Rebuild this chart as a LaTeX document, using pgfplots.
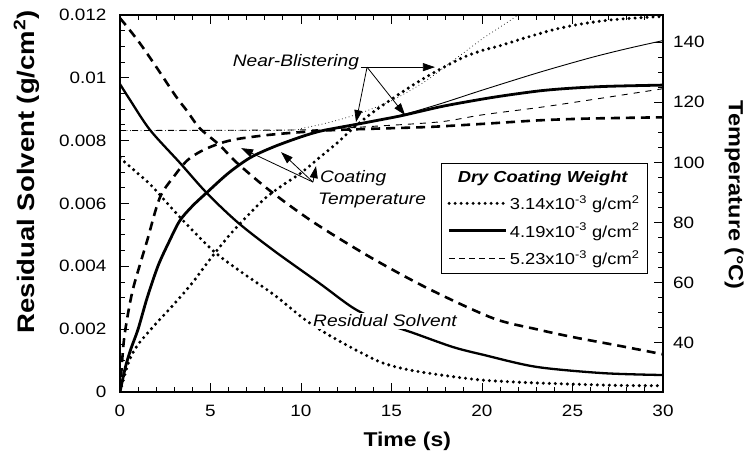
\documentclass[border=0pt]{standalone}
\usepackage{fontspec}
\setmainfont{Liberation Sans}[FakeStretch=1.15]
\usepackage{pgfplots}
\pgfplotsset{compat=1.18}
\usetikzlibrary{arrows.meta}
\tikzset{
 thickdot/.style={line width=3.4bp, dash pattern=on 0bp off 6bp, line cap=round},
 thicksolid/.style={line width=2.8bp},
 thickdash/.style={line width=2.6bp, dash pattern=on 9bp off 6bp},
 thindot/.style={line width=1bp, dash pattern=on 0bp off 3.5bp, line cap=round},
 thinsolid/.style={line width=0.9bp},
 thindash/.style={line width=0.9bp, dash pattern=on 6bp off 6bp},
 arr/.style={line width=0.8bp, -{Triangle[length=12bp,width=8bp]}},
}
\pgfplotsset{myax/.style={scale only axis, width=543bp, height=377bp, at={(0,0)}, anchor=south west,
  xmin=0, xmax=30, axis line style={line width=1.4bp}, tick style={line width=1bp, black},
  tick align=inside, major tick length=9bp, minor tick length=5bp,
  tick label style={font=\fontsize{16.5}{19}\selectfont},
  /pgf/number format/assume math mode=true}}
\begin{document}
\begin{tikzpicture}
\begin{axis}[myax, ymin=0, ymax=0.012, scaled y ticks=false,
  xtick={0,5,10,15,20,25,30}, minor x tick num=4, xtick pos=both, xticklabel pos=lower,
  ytick={0,0.002,0.004,0.006,0.008,0.01,0.012},
  yticklabels={0,0.002,0.004,0.006,0.008,0.01,0.012},
  minor y tick num=3, ytick pos=left,
  xticklabel style={yshift=-10bp}, yticklabel style={xshift=-10bp},
  xlabel={\bfseries Time (s)},
  ylabel={\bfseries Residual Solvent (g/cm\textsuperscript{2})},
  every axis x label/.style={at={(axis description cs:0.529,-0.132)}, anchor=center, font=\fontsize{20}{22}\selectfont},
  every axis y label/.style={at={(axis description cs:-0.172,0.584)}, rotate=90, anchor=center, font=\fontsize{24}{26}\selectfont},
]
% dotted solvent (3.14)
\addplot[thickdot, smooth] coordinates {(0,0.00745) (1,0.00695) (1.8,0.00653) (3.3,0.00557) (5.1,0.00452) (6.5,0.0039) (8.5,0.0031) (10,0.0024) (11,0.002) (12.5,0.0015) (14.4,0.00095) (16,0.0007) (18,0.00052) (20,0.00038) (22.5,0.0003) (25,0.00025) (27.5,0.00021) (30,0.0002)};
% solid solvent (4.19)
\addplot[line width=2.3bp, smooth] coordinates {(0,0.0098) (0.55,0.0093) (1.66,0.00834) (3.3,0.0073) (4.8,0.00633) (6.5,0.0054) (8.5,0.0045) (11,0.00347) (12.9,0.00267) (14.5,0.00222) (16.2,0.00188) (18.4,0.00143) (20.1,0.00118) (23,0.0008) (26.7,0.0006) (30,0.00054)};
% dashed solvent (5.23)
\addplot[thickdash, smooth] coordinates {(0,0.0119) (0.4,0.01162) (1.1,0.0111) (2,0.01035) (3.1,0.0094) (3.7,0.00895) (4.4,0.0084) (5.5,0.00786) (6.45,0.0073) (8.3,0.0064) (10.7,0.0054) (13.8,0.0043) (17,0.0033) (20.6,0.00235) (23,0.002) (25,0.00175) (27.5,0.00148) (30,0.0012)};
\node[fill=white, inner sep=1.5bp, font=\itshape\fontsize{16.7}{20}\selectfont] at (axis cs:14.64,0.00226) {Residual Solvent};
\end{axis}
\begin{axis}[myax, axis x line=none, axis y line*=right, ymin=23.7, ymax=149,
  ytick={40,60,80,100,120,140}, minor y tick num=3, ytick pos=right,
  yticklabel style={xshift=6.5bp},
  ylabel={\bfseries Temperature (\textdegree C)},
  every axis y label/.style={at={(axis description cs:1.1308,0.522)}, rotate=-90, anchor=center, font=\fontsize{20.5}{24}\selectfont},
  legend image code/.code={\draw[#1] (0bp,0bp) -- (57bp,0bp);},
  legend cell align=left,
  legend style={at={(0.972,0.607)}, anchor=north east, draw=black, line width=0.8bp, fill=white,
    font=\fontsize{16}{19}\selectfont, row sep=8bp, inner xsep=6bp, inner ysep=5bp},
]
\addlegendimage{empty legend}
\addlegendentry{\hspace*{-52bp}\bfseries\itshape Dry Coating Weight}
\addlegendimage{thickdot}
\addlegendentry{3.14x10\textsuperscript{-3} g/cm\textsuperscript{2}}
\addlegendimage{thicksolid}
\addlegendentry{4.19x10\textsuperscript{-3} g/cm\textsuperscript{2}}
\addlegendimage{line width=1.3bp, dash pattern=on 6bp off 4bp}
\addlegendentry{5.23x10\textsuperscript{-3} g/cm\textsuperscript{2}}
% thin near-blistering lines
\addplot[thindot, smooth, forget plot] coordinates {(0,110.6) (9,110.7) (10,111.3) (11,112.5) (12,114) (13,115.8) (14,118) (15,120.5) (16,123.8) (17,127.5) (18,132) (19,136.5) (20,141) (21,145) (22,149) (22.5,151)};
\addplot[thinsolid, smooth, forget plot] coordinates {(13.1,112.7) (14,113.6) (15.6,115.8) (17.7,119.5) (20,124) (23.2,130) (26,134.8) (28,137.8) (30,140.5)};
\addplot[thindash, smooth, forget plot] coordinates {(0,110.6) (10,110.8) (12,111.3) (14,112) (17.7,113.5) (20,115.8) (23.2,118.3) (26,120.8) (30,124.5)};
% dotted temperature (3.14)
\addplot[thickdot, smooth, forget plot] coordinates {(0,23.7) (0.5,34) (1,39.5) (2,46.5) (3,53) (4,60) (5,68) (6,75.5) (7,82) (8,88) (9,92.5) (10,96.5) (11,101.5) (12,106.5) (13,112) (14,116.8) (15,121) (16,125) (17,128.7) (18,132) (19,135) (20,137.2) (21,138.8) (22,140.7) (23,142.5) (24,144.2) (25,145.5) (26,146.5) (27,147.3) (28,147.8) (29,148.2) (30,148.5)};
% solid temperature (4.19)
\addplot[thicksolid, smooth, forget plot] coordinates {(0,23.7) (0.3,32) (0.6,38) (1,44.6) (1.5,55) (2.1,65.6) (2.7,73.5) (3.3,80.6) (4,85.5) (4.8,90) (6,96.5) (7.2,101.6) (8.5,105.2) (10,108.5) (11,110.3) (12,111.5) (13.1,112.7) (14.5,114.3) (15.6,115.6) (17.7,118.5) (19.3,120.3) (21,122) (23.2,123.8) (25,124.7) (27,125.3) (30,125.7)};
% dashed temperature (5.23)
\addplot[thickdash, smooth, forget plot] coordinates {(0,23.7) (0.2,40) (0.45,50) (0.72,58) (1.1,66) (1.5,74) (2.2,88.3) (3,95.5) (3.7,100.6) (4.5,103.8) (5.5,106.3) (6.5,107.8) (8.3,109.2) (10.3,110.2) (12,110.8) (14,111.2) (17.1,111.8) (20,112.8) (23.2,114) (26,114.6) (30,115)};
% annotations
\node[font=\itshape\fontsize{16.7}{20}\selectfont] at (axis cs:9.72,133.3) {Near-Blistering};
\draw[line width=0.8bp] (axis cs:13.31,131.67) -- (axis cs:13.65,131.67);
\draw[arr] (axis cs:13.65,131.67) -- (axis cs:13.04,113.4);
\draw[arr] (axis cs:13.65,131.67) -- (axis cs:15.75,115.73);
\draw[arr] (axis cs:13.31,131.67) -- (axis cs:17.4,131.67);
\node[anchor=north west, inner sep=0pt, align=left, font=\itshape\fontsize{16.7}{22}\selectfont] at (axis cs:10.94,97.45) {\hspace*{2bp}Coating\\Temperature};
\draw[arr] (axis cs:10.66,93.47) -- (axis cs:6.69,104.76);
\draw[arr] (axis cs:10.66,93.47) -- (axis cs:8.9,103.43);
\draw[arr] (axis cs:10.66,93.47) -- (axis cs:10.83,98.78);
\end{axis}
\pgfresetboundingbox
\path (-120bp,-60bp) rectangle (626bp,392bp);
\end{tikzpicture}
\end{document}
